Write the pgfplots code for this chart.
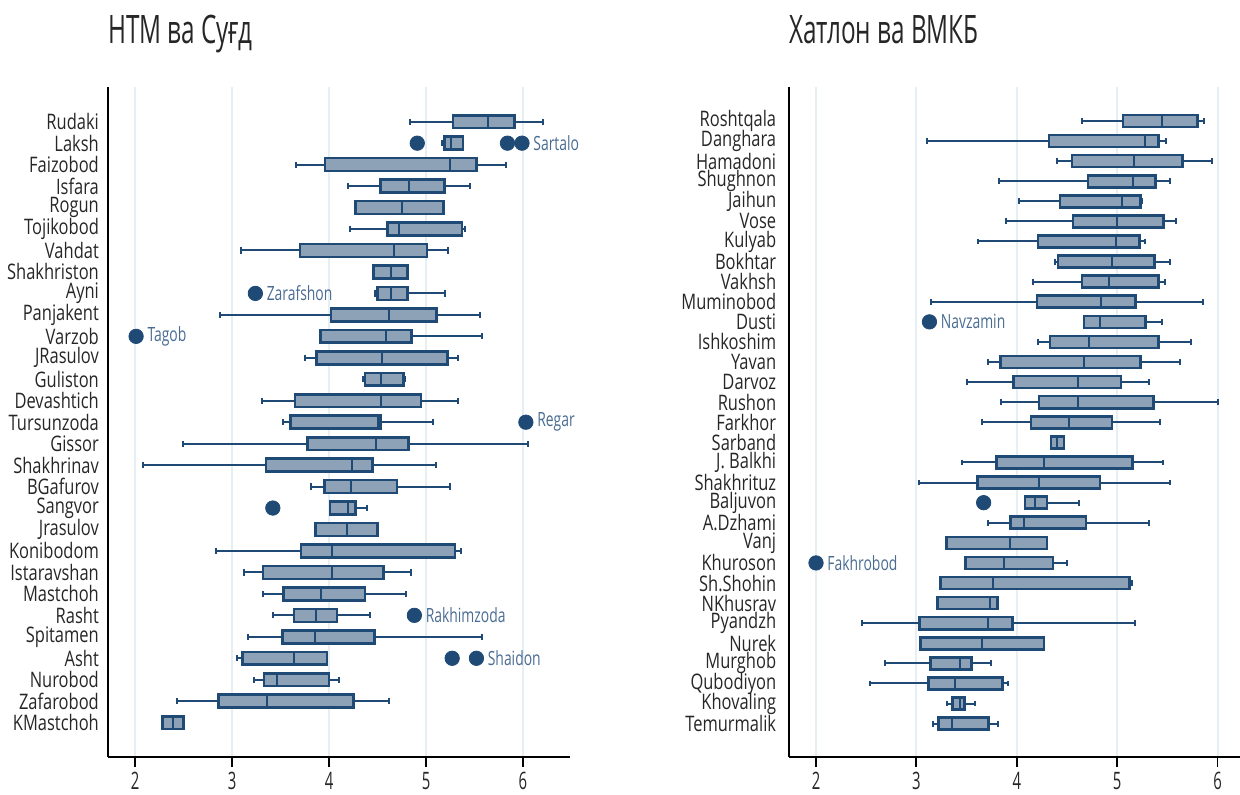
\documentclass[border=0pt]{standalone}
\usepackage{fontspec}
\setmainfont{Open Sans}[FakeStretch=0.62]
\newfontfamily\labfont{Open Sans}[FakeStretch=0.77]
\newfontfamily\outfont{Open Sans}[FakeStretch=0.71]
\usepackage{pgfplots}
\pgfplotsset{compat=1.18}
\usepgfplotslibrary{statistics}

\definecolor{boxline}{HTML}{1F4A75}
\definecolor{boxfill}{HTML}{8DA2B7}
\definecolor{labc}{HTML}{4A6C92}
\definecolor{gridc}{HTML}{E6EFF3}
\definecolor{textc}{HTML}{262626}

% one box: position, lower whisker, Q1, median, Q3, upper whisker
\newcommand{\bx}[6]{\addplot[boxline, mark=none, boxplot prepared={draw position=#1,
  lower whisker=#2, lower quartile=#3, median=#4, upper quartile=#5, upper whisker=#6}] coordinates {};}

\pgfplotsset{
  panel/.style={
    scale only axis, height=335pt,
    y dir=reverse, clip=false,
    axis x line*=bottom, axis y line*=left,
    axis line style={line width=0.9pt, black},
    xtick={2,3,4,5,6}, xmajorgrids,
    grid style={line width=1pt, gridc},
    tick align=outside, major tick length=5pt,
    xtick style={line width=0.9pt, black},
    ytick style={draw=none},
    /pgf/number format/assume math mode=true,
    xticklabel style={font=\fontsize{12}{14}\selectfont, text=textc, yshift=1pt},
    yticklabel style={font=\labfont\fontsize{10.7}{12}\selectfont, text=textc},
    title style={at={(0,1)}, anchor=base west, yshift=16pt, inner sep=0pt,
      font=\fontsize{19.6}{22}\selectfont, text=textc},
    boxplot/box extend=0.6,
    boxplot/whisker extend=0.29,
    boxplot/every box/.style={draw=boxline, fill=boxfill, line width=1.3pt},
    boxplot/every whisker/.style={draw=boxline, line width=1pt},
    boxplot/every median/.style={draw=boxline, line width=1pt},
  },
  outl/.style={only marks, mark=*, mark size=3.6pt, boxline},
  outlab/.style={outl, nodes near coords, point meta=explicit symbolic,
    nodes near coords align={horizontal},
    every node near coord/.append style={anchor=west, inner sep=0pt, xshift=5.5pt,
      text=labc, font=\outfont\fontsize{9.8}{11}\selectfont}},
}

\begin{document}
\begin{tikzpicture}
\useasboundingbox (0,0) rectangle (620pt,397pt);

\begin{axis}[panel, at={(53.85pt,18.5pt)}, anchor=south west,
  width=230.9pt, xmin=1.717, xmax=6.48, ymin=-0.617, ymax=30.6,
  title={НТМ ва Суғд},
  ytick={1,...,29}, yticklabel style={xshift=4.1pt},
  yticklabels={Rudaki,Laksh,Faizobod,Isfara,Rogun,Tojikobod,Vahdat,Shakhriston,Ayni,
    Panjakent,Varzob,JRasulov,Guliston,Devashtich,Tursunzoda,Gissor,Shakhrinav,
    BGafurov,Sangvor,Jrasulov,Konibodom,Istaravshan,Mastchoh,Rasht,Spitamen,Asht,
    Nurobod,Zafarobod,KMastchoh}]
\bx{1}{4.83}{5.28}{5.64}{5.91}{6.21}
\bx{2}{5.17}{5.19}{5.26}{5.38}{5.38}
\bx{3}{3.66}{3.96}{5.25}{5.52}{5.82}
\bx{4}{4.20}{4.53}{4.82}{5.19}{5.45}
\bx{5}{4.27}{4.27}{4.75}{5.18}{5.18}
\bx{6}{4.22}{4.60}{4.72}{5.37}{5.40}
\bx{7}{3.09}{3.70}{4.67}{5.01}{5.23}
\bx{8}{4.46}{4.46}{4.64}{4.81}{4.81}
\bx{9}{4.47}{4.50}{4.64}{4.81}{5.20}
\bx{10}{2.88}{4.02}{4.62}{5.11}{5.56}
\bx{11}{3.91}{3.91}{4.59}{4.85}{5.58}
\bx{12}{3.75}{3.87}{4.55}{5.22}{5.33}
\bx{13}{4.35}{4.37}{4.54}{4.77}{4.78}
\bx{14}{3.31}{3.65}{4.54}{4.95}{5.33}
\bx{15}{3.52}{3.60}{4.50}{4.53}{5.07}
\bx{16}{2.49}{3.78}{4.48}{4.82}{6.05}
\bx{17}{2.08}{3.35}{4.24}{4.45}{5.10}
\bx{18}{3.81}{3.95}{4.23}{4.70}{5.25}
\bx{19}{4.01}{4.01}{4.20}{4.27}{4.39}
\bx{20}{3.86}{3.86}{4.18}{4.50}{4.50}
\bx{21}{2.83}{3.71}{4.03}{5.30}{5.36}
\bx{22}{3.12}{3.32}{4.03}{4.56}{4.85}
\bx{23}{3.32}{3.53}{3.92}{4.37}{4.79}
\bx{24}{3.42}{3.64}{3.87}{4.08}{4.42}
\bx{25}{3.16}{3.52}{3.85}{4.47}{5.58}
\bx{26}{3.05}{3.11}{3.64}{3.98}{3.98}
\bx{27}{3.23}{3.33}{3.46}{4.00}{4.10}
\bx{28}{2.43}{2.86}{3.36}{4.25}{4.62}
\bx{29}{2.28}{2.28}{2.39}{2.50}{2.50}
\addplot[outl] coordinates {(4.91,2) (5.84,2) (3.42,19) (5.27,26)};
\addplot[outlab] table[meta=lab] {
x y lab
5.99 2 Sartalo
3.24 9 Zarafshon
2.01 11 Tagob
6.03 15 Regar
4.88 24 Rakhimzoda
5.52 26 Shaidon
};
\end{axis}

\begin{axis}[panel, at={(394.35pt,18.5pt)}, anchor=south west,
  width=225.65pt, xmin=1.728, xmax=6.224, ymin=-0.69, ymax=32.66,
  title={Хатлон ва ВМКБ},
  ytick={1,...,31}, yticklabel style={xshift=2.25pt},
  yticklabels={Roshtqala,Danghara,Hamadoni,Shughnon,Jaihun,Vose,Kulyab,Bokhtar,Vakhsh,
    Muminobod,Dusti,Ishkoshim,Yavan,Darvoz,Rushon,Farkhor,Sarband,J. Balkhi,Shakhrituz,
    Baljuvon,A.Dzhami,Vanj,Khuroson,Sh.Shohin,NKhusrav,Pyandzh,Nurek,Murghob,
    Qubodiyon,Khovaling,Temurmalik}]
\bx{1}{4.65}{5.06}{5.45}{5.80}{5.87}
\bx{2}{3.11}{4.32}{5.28}{5.41}{5.49}
\bx{3}{4.40}{4.55}{5.17}{5.65}{5.94}
\bx{4}{3.82}{4.71}{5.16}{5.38}{5.53}
\bx{5}{4.02}{4.43}{5.05}{5.23}{5.25}
\bx{6}{3.89}{4.56}{5.00}{5.46}{5.59}
\bx{7}{3.61}{4.21}{4.99}{5.22}{5.28}
\bx{8}{4.38}{4.41}{4.95}{5.37}{5.53}
\bx{9}{4.16}{4.65}{4.92}{5.41}{5.48}
\bx{10}{3.15}{4.20}{4.84}{5.18}{5.86}
\bx{11}{4.67}{4.67}{4.83}{5.28}{5.45}
\bx{12}{4.21}{4.33}{4.72}{5.41}{5.74}
\bx{13}{3.71}{3.84}{4.67}{5.23}{5.63}
\bx{14}{3.50}{3.97}{4.61}{5.04}{5.32}
\bx{15}{3.84}{4.22}{4.61}{5.36}{6.00}
\bx{16}{3.65}{4.14}{4.52}{4.95}{5.43}
\bx{17}{4.34}{4.34}{4.40}{4.47}{4.47}
\bx{18}{3.45}{3.80}{4.27}{5.15}{5.46}
\bx{19}{3.03}{3.61}{4.22}{4.83}{5.53}
\bx{20}{4.08}{4.08}{4.18}{4.30}{4.62}
\bx{21}{3.71}{3.94}{4.07}{4.69}{5.32}
\bx{22}{3.29}{3.30}{3.93}{4.30}{4.30}
\bx{23}{3.49}{3.49}{3.87}{4.36}{4.50}
\bx{24}{3.24}{3.24}{3.76}{5.12}{5.15}
\bx{25}{3.21}{3.21}{3.73}{3.81}{3.81}
\bx{26}{2.46}{3.03}{3.71}{3.96}{5.18}
\bx{27}{3.04}{3.04}{3.65}{4.27}{4.27}
\bx{28}{2.69}{3.14}{3.43}{3.55}{3.74}
\bx{29}{2.54}{3.12}{3.38}{3.86}{3.91}
\bx{30}{3.30}{3.36}{3.43}{3.48}{3.58}
\bx{31}{3.17}{3.22}{3.35}{3.72}{3.81}
\addplot[outl] coordinates {(3.67,20)};
\addplot[outlab] table[meta=lab] {
x y lab
3.13 11 Navzamin
2.00 23 Fakhrobod
};
\end{axis}
\end{tikzpicture}
\end{document}
